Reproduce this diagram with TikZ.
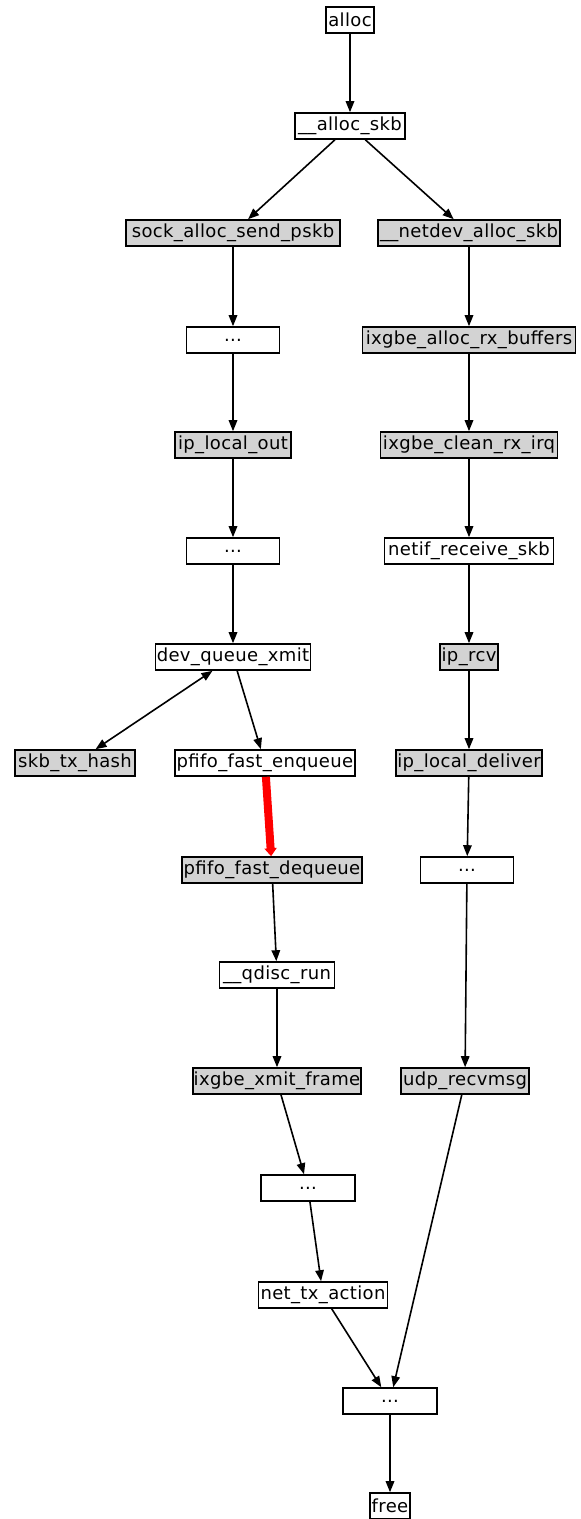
\documentclass[tikz,border=0pt]{standalone}
\usepackage{fontspec}
\setmainfont{DejaVu Sans}
\newfontfamily\gvfont[LetterSpace=2]{DejaVu Sans}
\usetikzlibrary{arrows.meta}
\definecolor{graybox}{RGB}{211,211,211}
\tikzset{
  fn/.style={draw=black, line width=1.6pt, inner sep=0pt, minimum height=26pt, font=\gvfont\fontsize{18}{18}\selectfont, anchor=center, text=black},
  hot/.style={fn, fill=graybox},
  edge/.style={draw=black, line width=1.6pt, -{Triangle[length=11pt,width=8.5pt]}},
  bothedge/.style={draw=black, line width=1.6pt, {Triangle[length=11pt,width=8.5pt]}-{Triangle[length=11pt,width=8.5pt]}},
  rededge/.style={draw=red, line width=8pt, -{Triangle[length=8pt,width=12pt]}}
}
\begin{document}
\begin{tikzpicture}[x=1pt,y=-1pt]
\useasboundingbox (0,0) rectangle (581,1519);
\node[fn, minimum width=48pt] (alloc) at (350,20) {alloc};
\node[fn, minimum width=110pt] (askb) at (350,126) {\_\_alloc\_skb};
\node[hot, minimum width=214pt] (sasp) at (233,233) {sock\_alloc\_send\_pskb};
\node[hot, minimum width=182pt] (ndas) at (469,233) {\_\_netdev\_alloc\_skb};
\node[fn, minimum width=93pt] (dotsA) at (233,340) {...};
\node[hot, minimum width=213pt] (iarb) at (469,340) {ixgbe\_alloc\_rx\_buffers};
\node[hot, minimum width=116pt] (ilo) at (233,445) {ip\_local\_out};
\node[hot, minimum width=177pt] (icri) at (469,445) {ixgbe\_clean\_rx\_irq};
\node[fn, minimum width=93pt] (dotsB) at (233,551) {...};
\node[fn, minimum width=169pt] (nrs) at (469,551) {netif\_receive\_skb};
\node[fn, minimum width=155pt] (dqx) at (233,657) {dev\_queue\_xmit};
\node[hot, minimum width=58pt] (iprcv) at (469,657) {ip\_rcv};
\node[hot, minimum width=120pt] (sth) at (75,763) {skb\_tx\_hash};
\node[fn, minimum width=180pt] (pfe) at (265,763) {pfifo\_fast\_enqueue};
\node[hot, minimum width=146pt] (ild) at (469,763) {ip\_local\_deliver};
\node[hot, minimum width=180pt] (pfd) at (272,870) {pfifo\_fast\_dequeue};
\node[fn, minimum width=93pt] (dotsC) at (467,870) {...};
\node[fn, minimum width=115pt] (qr) at (277,975) {\_\_qdisc\_run};
\node[hot, minimum width=168pt] (ixf) at (277,1081) {ixgbe\_xmit\_frame};
\node[hot, minimum width=128pt] (udp) at (465,1081) {udp\_recvmsg};
\node[fn, minimum width=94pt] (dotsD) at (308,1188) {...};
\node[fn, minimum width=129pt] (nta) at (323,1295) {net\_tx\_action};
\node[fn, minimum width=94pt] (dotsE) at (390,1401) {...};
\node[fn, minimum width=40pt] (free) at (390,1506) {free};
\draw[edge] (alloc) -- (askb);
\draw[edge] (askb) -- (sasp);
\draw[edge] (askb) -- (ndas);
\draw[edge] (sasp) -- (dotsA);
\draw[edge] (dotsA) -- (ilo);
\draw[edge] (ilo) -- (dotsB);
\draw[edge] (dotsB) -- (dqx);
\draw[bothedge] (dqx) -- (sth);
\draw[edge] (dqx) -- (pfe);
\draw[rededge] (pfe) -- (pfd);
\draw[edge] (pfd) -- (qr);
\draw[edge] (qr) -- (ixf);
\draw[edge] (ixf) -- (dotsD);
\draw[edge] (dotsD) -- (nta);
\draw[edge] (nta) -- (dotsE);
\draw[edge] (ndas) -- (iarb);
\draw[edge] (iarb) -- (icri);
\draw[edge] (icri) -- (nrs);
\draw[edge] (nrs) -- (iprcv);
\draw[edge] (iprcv) -- (ild);
\draw[edge] (ild) -- (dotsC);
\draw[edge] (dotsC) -- (udp);
\draw[edge] (udp) -- (dotsE);
\draw[edge] (dotsE) -- (free);
\end{tikzpicture}
\end{document}
